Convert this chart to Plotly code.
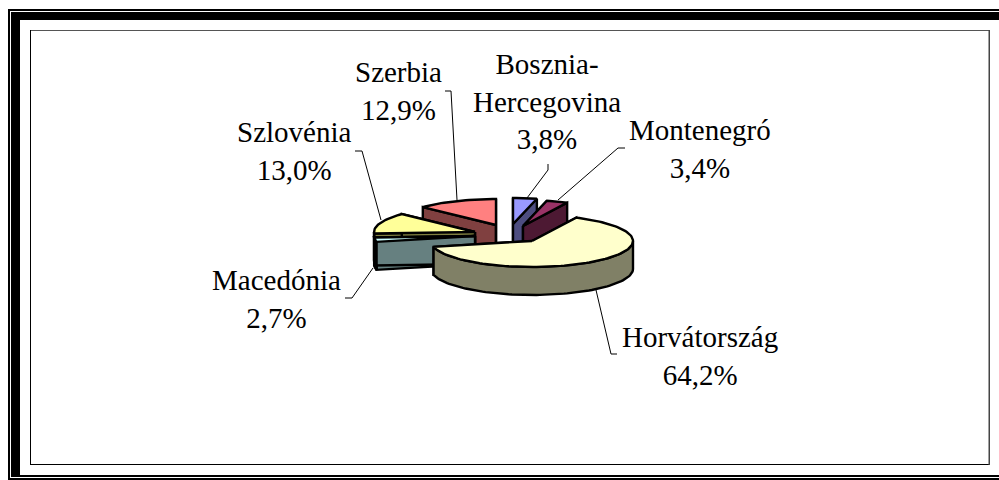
import math
import plotly.graph_objects as go

categories = ["Bosznia-<br>Hercegovina", "Montenegró", "Horvátország", "Macedónia", "Szlovénia", "Szerbia"]
values = [3.8, 3.4, 64.2, 2.7, 13.0, 12.9]
top_colors = ["#9999FF", "#993366", "#FFFFCC", "#CCFFFF", "#FFFF99", "#FF8080"]
side_colors = ["#4D4D80", "#4D1933", "#808066", "#668080", "#808040", "#804040"]

# Projection of the exploded 3-D pie (pixels)
RX, RY, DEPTH = 101, 26, 28
apex = [(513, 224), (523, 226), (532, 241), (475, 236), (475, 232), (496, 225)]
draw_order = [5, 0, 1, 4, 3, 2]
label_pos = [(547, 72), (700, 138), (700, 345), (276, 288), (294, 140), (398, 80)]
leaders = [
    [(548, 164), (548, 170), (527, 198)],
    [(625, 148), (618, 148), (558, 200)],
    [(617, 354), (611, 354), (596, 290)],
    [(345, 298), (352, 298), (373, 268)],
    [(355, 151), (362, 151), (381, 220)],
    [(445, 91), (451, 91), (457, 200)],
]
FONT = "Liberation Serif"
FONT_SIZE = 29


def pt(c, deg, dz=0):
    a = math.radians(deg)
    return c[0] + RX * math.sin(a), c[1] - RY * math.cos(a) + dz


def poly(points, fill):
    xs = [p[0] for p in points] + [points[0][0]]
    ys = [p[1] for p in points] + [points[0][1]]
    return go.Scatter(x=xs, y=ys, mode="lines", fill="toself", fillcolor=fill,
                      line=dict(color="black", width=2.4), hoverinfo="skip", showlegend=False)


def arc(c, a0, a1, dz=0):
    n = max(2, int(abs(a1 - a0) / 2) + 2)
    return [pt(c, a0 + (a1 - a0) * i / (n - 1), dz) for i in range(n)]


fig = go.Figure()

for pts in leaders:
    fig.add_trace(go.Scatter(x=[p[0] for p in pts], y=[p[1] for p in pts], mode="lines",
                             line=dict(color="black", width=1), hoverinfo="skip", showlegend=False))

starts = []
run = 0.0
for v in values:
    starts.append(run)
    run += v * 3.6

for i in draw_order:
    a0 = starts[i]
    a1 = a0 + values[i] * 3.6
    c = apex[i]
    cb = (c[0], c[1] + DEPTH)
    for ang in (a0, a1):
        p = pt(c, ang)
        fig.add_trace(poly([c, p, (p[0], p[1] + DEPTH), cb], side_colors[i]))
    w0, w1 = max(a0, 90), min(a1, 270)
    if w1 > w0:
        fig.add_trace(poly(arc(c, w0, w1) + arc(c, w1, w0, DEPTH), side_colors[i]))
    fig.add_trace(poly([c] + arc(c, a0, a1), top_colors[i]))

annotations = []
for name, v, (x, base) in zip(categories, values, label_pos):
    txt = f"{name}<br>{v:.1f}%".replace(".", ",")
    annotations.append(dict(x=x, y=base - 26, xref="x", yref="y", text=txt, showarrow=False,
                            xanchor="center", yanchor="top", align="center",
                            font=dict(family=FONT, size=FONT_SIZE, color="black")))


def rect(x0, y0, x1, y1, color="black"):
    return dict(type="rect", xref="x", yref="y", x0=x0, y0=y0, x1=x1, y1=y1,
                fillcolor=color, line=dict(width=0), layer="below")


shapes = [
    rect(8, 9, 999, 11), rect(8, 9, 10, 480), rect(8, 478, 999, 480),
    rect(11, 12, 999, 20), rect(11, 12, 20, 477), rect(11, 475, 999, 477),
    rect(30, 30, 990, 31, "#555555"), rect(30, 30, 31, 465), rect(30, 464, 990, 465),
    rect(988.5, 30, 990, 465, "#444444"),
]

fig.update_layout(
    width=999, height=480, margin=dict(l=0, r=0, t=0, b=0),
    paper_bgcolor="white", plot_bgcolor="white", showlegend=False,
    xaxis=dict(range=[0, 999], visible=False, fixedrange=True),
    yaxis=dict(range=[480, 0], visible=False, fixedrange=True),
    annotations=annotations, shapes=shapes,
)
fig.write_html("out.html", config=dict(displayModeBar=False),
               post_script="document.body.style.margin='0';document.body.style.overflow='hidden';")
